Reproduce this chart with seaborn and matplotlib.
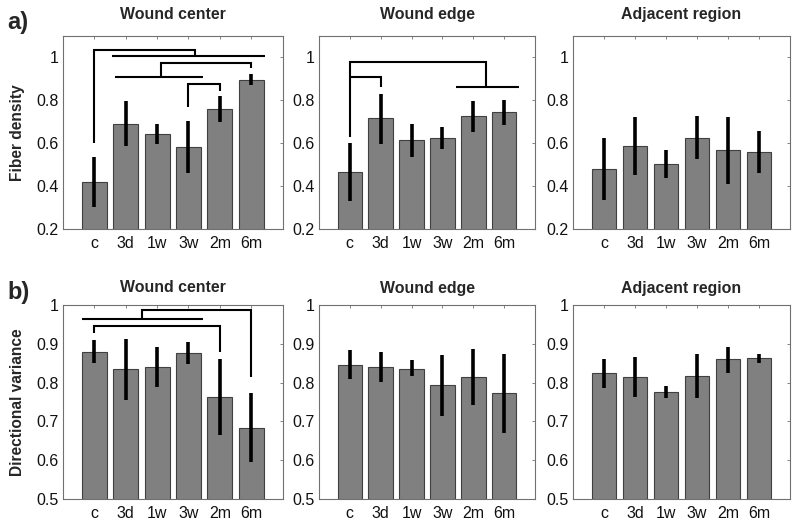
import numpy as np
import pandas as pd
import matplotlib
matplotlib.use("Agg")
import matplotlib.pyplot as plt
import seaborn as sns

sns.set_style("white")
plt.rcParams["font.family"] = ["Liberation Sans", "DejaVu Sans"]

times = ["c", "3d", "1w", "3w", "2m", "6m"]
regions = ["Wound center", "Wound edge", "Adjacent region"]

# Fiber density (row a)
fd_center_mean = [0.420, 0.691, 0.645, 0.583, 0.760, 0.897]
fd_center_lo = [0.302, 0.585, 0.598, 0.460, 0.700, 0.870]
fd_center_hi = [0.538, 0.798, 0.688, 0.704, 0.820, 0.922]

fd_edge_mean = [0.465, 0.716, 0.615, 0.626, 0.727, 0.744]
fd_edge_lo = [0.329, 0.597, 0.538, 0.575, 0.654, 0.685]
fd_edge_hi = [0.600, 0.830, 0.690, 0.674, 0.797, 0.802]

fd_adj_mean = [0.479, 0.589, 0.505, 0.626, 0.567, 0.561]
fd_adj_lo = [0.333, 0.453, 0.440, 0.526, 0.409, 0.460]
fd_adj_hi = [0.626, 0.724, 0.569, 0.726, 0.721, 0.656]

# Directional variance (row b)
dv_center_mean = [0.880, 0.834, 0.840, 0.877, 0.762, 0.684]
dv_center_lo = [0.851, 0.756, 0.788, 0.849, 0.666, 0.596]
dv_center_hi = [0.910, 0.913, 0.893, 0.904, 0.860, 0.774]

dv_edge_mean = [0.845, 0.839, 0.836, 0.793, 0.815, 0.773]
dv_edge_lo = [0.808, 0.801, 0.817, 0.715, 0.743, 0.670]
dv_edge_hi = [0.883, 0.878, 0.858, 0.871, 0.886, 0.875]

dv_adj_mean = [0.824, 0.814, 0.775, 0.818, 0.860, 0.863]
dv_adj_lo = [0.786, 0.763, 0.760, 0.760, 0.824, 0.851]
dv_adj_hi = [0.861, 0.865, 0.792, 0.875, 0.892, 0.875]

row_means = [[fd_center_mean, fd_edge_mean, fd_adj_mean],
             [dv_center_mean, dv_edge_mean, dv_adj_mean]]
row_lo = [[fd_center_lo, fd_edge_lo, fd_adj_lo],
          [dv_center_lo, dv_edge_lo, dv_adj_lo]]
row_hi = [[fd_center_hi, fd_edge_hi, fd_adj_hi],
          [dv_center_hi, dv_edge_hi, dv_adj_hi]]
row_labels = ["Fiber density", "Directional variance"]
panel_tags = ["a)", "b)"]
row_ylim = [(0.2, 1.1), (0.5, 1.0)]
row_yticks = [[0.2, 0.4, 0.6, 0.8, 1.0], [0.5, 0.6, 0.7, 0.8, 0.9, 1.0]]
ytick_labels = [["0.2", "0.4", "0.6", "0.8", "1"],
                ["0.5", "0.6", "0.7", "0.8", "0.9", "1"]]

# significance brackets: polylines as (category position, value) pairs
brackets = {
    (0, 0): [
        [(0, 0.600), (0, 1.037), (3.2, 1.037), (3.2, 1.005)],
        [(0.55, 1.005), (5.45, 1.005)],
        [(0.67, 0.910), (3.45, 0.910)],
        [(2.12, 0.910), (2.12, 0.975), (5.0, 0.975), (5.0, 0.950)],
        [(3.0, 0.770), (3.0, 0.876), (4.0, 0.876), (4.0, 0.845)],
    ],
    (0, 1): [
        [(0, 0.631), (0, 0.978), (4.4, 0.978), (4.4, 0.860)],
        [(3.45, 0.860), (5.49, 0.860)],
        [(0, 0.907), (1.0, 0.907), (1.0, 0.860)],
    ],
    (1, 0): [
        [(-0.41, 0.963), (3.45, 0.963)],
        [(1.53, 0.963), (1.53, 0.986), (5.0, 0.986), (5.0, 0.815)],
        [(0, 0.929), (0, 0.946), (4.0, 0.946), (4.0, 0.879)],
    ],
}

W, H = 800, 527
fig = plt.figure(figsize=(W / 100, H / 100), dpi=100)

col_x = [(63, 282.5), (319, 535), (573, 790)]
row_y = [(36, 229), (305, 499)]
title_pad = [12, 9]
spine_col = "#707070"

for r in range(2):
    for c in range(3):
        x0, x1 = col_x[c]
        y0, y1 = row_y[r]
        ax = fig.add_axes([x0 / W, 1 - y1 / H, (x1 - x0) / W, (y1 - y0) / H])
        df = pd.DataFrame({"time": times, "value": row_means[r][c]})
        sns.barplot(data=df, x="time", y="value", order=times, ax=ax,
                    color="#808080", saturation=1, width=0.8,
                    edgecolor="#404040", linewidth=0.8, errorbar=None)
        ax.vlines(np.arange(len(times)), row_lo[r][c], row_hi[r][c],
                  colors="black", linewidth=2.6, zorder=3)
        for line in brackets.get((r, c), []):
            xs, ys = zip(*line)
            ax.plot(xs, ys, color="black", linewidth=1.5, zorder=4,
                    solid_capstyle="butt", solid_joinstyle="miter",
                    clip_on=False)
        ax.set_xlim(-1, 6)
        ax.set_ylim(*row_ylim[r])
        ax.set_yticks(row_yticks[r])
        ax.set_yticklabels(ytick_labels[r])
        ax.set_xlabel("")
        ax.set_ylabel("")
        ax.tick_params(direction="in", top=True, right=True, length=2.5,
                       width=0.6, color=spine_col, labelsize=11.5,
                       labelcolor="#111111")
        ax.tick_params(axis="x", pad=5)
        ax.tick_params(axis="y", pad=3)
        for s in ax.spines.values():
            s.set_color(spine_col)
            s.set_linewidth(0.8)
            s.set_visible(True)
        ax.set_title(regions[c], fontsize=11.4, fontweight="bold",
                     pad=title_pad[r])
    yc = (row_y[r][0] + row_y[r][1]) / 2
    fig.text(18 / W, 1 - yc / H, row_labels[r], rotation=90, ha="center",
             va="center", fontsize=11.2, fontweight="bold")
    fig.text(7 / W, 1 - (22 + r * 270) / H, panel_tags[r], ha="left",
             va="center", fontsize=17, fontweight="bold")

fig.savefig("out.png", dpi=100, facecolor="white")
